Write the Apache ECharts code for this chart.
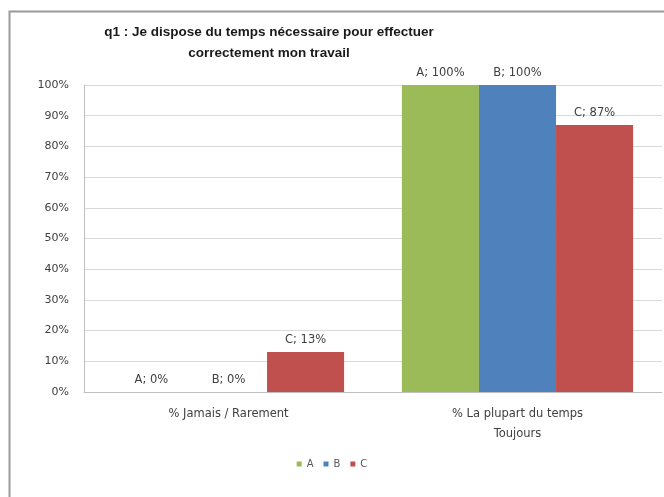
<!DOCTYPE html>
<html>
<head>
<meta charset="utf-8">
<script src="https://cdn.jsdelivr.net/npm/echarts@6/dist/echarts.min.js"></script>
<style>html,body{margin:0;padding:0;background:#fff;}#c{width:664px;height:497px;}</style>
</head>
<body>
<div id="c"></div>
<script>
const titleLines = ["q1 : Je dispose du temps nécessaire pour effectuer", "correctement mon travail"];
const categories = ["% Jamais / Rarement", "% La plupart du temps\nToujours"];
const seriesNames = ["A", "B", "C"];
const valuesA = [0, 100];
const valuesB = [0, 100];
const valuesC = [13, 87];
const yTicks = [0, 10, 20, 30, 40, 50, 60, 70, 80, 90, 100];
const colors = ["#9BBB59", "#4F81BD", "#C0504D"];

const titleFont = "'Liberation Sans', 'Open Sans', sans-serif";
const font = "'DejaVu Sans', sans-serif";
const chart = echarts.init(document.getElementById('c'));
const allValues = [valuesA, valuesB, valuesC];
chart.setOption({
  animation: false,
  backgroundColor: '#ffffff',
  title: {
    text: titleLines.join('\n'),
    left: 264, top: 17, textAlign: 'center',
    textStyle: { fontFamily: titleFont, fontSize: 13.5, fontWeight: 'bold', color: '#1a1a1a', lineHeight: 21 }
  },
  graphic: [{
    type: 'rect', left: 7, top: 9, silent: true,
    shape: { width: 700, height: 600 },
    style: { fill: 'none', stroke: '#9a9a9a', lineWidth: 2 }
  }],
  legend: {
    data: seriesNames, top: 454, left: 'center', itemWidth: 5, itemHeight: 5, itemGap: 10,
    icon: 'rect',
    textStyle: { fontFamily: font, fontSize: 10, color: '#595959' }
  },
  grid: { left: 84, right: 2, top: 85, bottom: 105 },
  xAxis: {
    type: 'category', data: categories,
    axisLine: { show: true, lineStyle: { color: '#bfbfbf' } },
    axisTick: { show: false },
    axisLabel: { fontFamily: font, fontSize: 11.5, color: '#404040', margin: 12, lineHeight: 20 }
  },
  yAxis: {
    type: 'value', min: 0, max: 100, interval: 10,
    axisLine: { show: true, lineStyle: { color: '#bfbfbf' } },
    axisTick: { show: false },
    splitLine: { lineStyle: { color: '#d9d9d9' } },
    axisLabel: { fontFamily: font, fontSize: 11, color: '#404040', margin: 15,
      formatter: v => yTicks.includes(v) ? v + '%' : '' }
  },
  series: seriesNames.map((n, i) => ({
    name: n, type: 'bar', data: allValues[i],
    barGap: '0%', barCategoryGap: '20%',
    itemStyle: { color: colors[i] },
    label: { show: true, position: 'top', distance: 6,
      fontFamily: font, fontSize: 11.5, color: '#404040',
      formatter: p => p.seriesName + '; ' + p.value + '%' }
  }))
});
</script>
</body>
</html>
